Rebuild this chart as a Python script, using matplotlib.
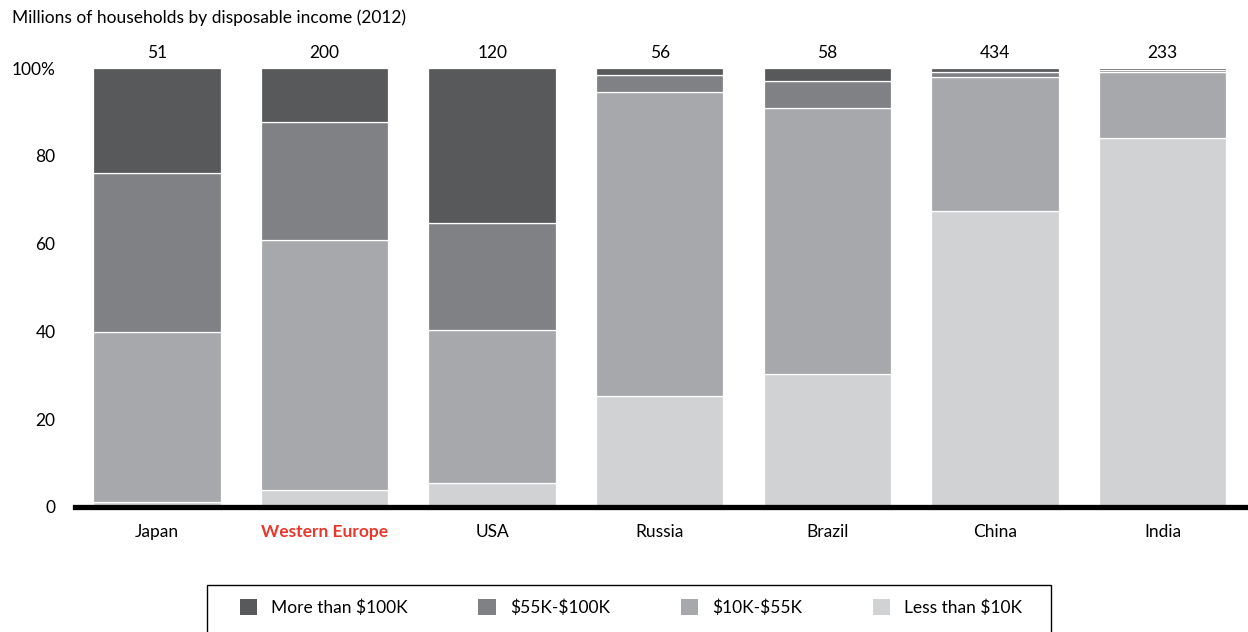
import matplotlib.pyplot as plt
from matplotlib.patches import Patch, Rectangle
import numpy as np

plt.rcParams['font.family'] = ['Lato', 'DejaVu Sans']

regions = ['Japan', 'Western Europe', 'USA', 'Russia', 'Brazil', 'China', 'India']
totals = ['51', '200', '120', '56', '58', '434', '233']

# share of households (%) by income band
less_10k = [1.1, 3.9, 5.5, 25.3, 30.3, 67.4, 84.0]
k10_55 = [38.8, 56.9, 34.8, 69.3, 60.7, 30.6, 15.0]
k55_100 = [36.2, 27.0, 24.4, 3.7, 6.1, 1.2, 0.6]
more_100k = [23.9, 12.2, 35.3, 1.7, 2.9, 0.8, 0.4]

series = [
    ('Less than \\$10K', less_10k, '#d1d2d4'),
    ('\\$10K-\\$55K', k10_55, '#a7a8ab'),
    ('\\$55K-\\$100K', k55_100, '#808184'),
    ('More than \\$100K', more_100k, '#58595b'),
]

fig = plt.figure(figsize=(12.48, 6.32), dpi=100)
ax = fig.add_axes([0.060, 0.1978, 0.940, 0.6946])

x = np.arange(len(regions))
bottom = np.zeros(len(regions))
for name, vals, color in series:
    ax.bar(x, vals, width=0.76, bottom=bottom, color=color,
           edgecolor='white', linewidth=0.9)
    bottom += np.array(vals)

for xi, t in zip(x, totals):
    ax.annotate(t, (xi, 100), xytext=(0, 5), textcoords='offset points',
                ha='center', va='bottom', fontsize=12.5)

ax.set_xlim(-0.49, 6.51)
ax.set_ylim(0, 100)
ax.set_yticks([0, 20, 40, 60, 80, 100])
ax.set_yticklabels(['0', '20', '40', '60', '80', '100%'], fontsize=12.5)
ax.set_xticks(x)
ax.set_xticklabels(regions, fontsize=12.5)
ax.tick_params(axis='both', length=0)
ax.tick_params(axis='y', pad=14)
ax.tick_params(axis='x', pad=12)
lbl = ax.get_xticklabels()[1]
lbl.set_color('#e8382e')
lbl.set_fontweight('bold')

for s in ['top', 'right', 'left']:
    ax.spines[s].set_visible(False)
ax.spines['bottom'].set_linewidth(3.8)
ax.spines['bottom'].set_zorder(5)

fig.text(0.0096, 0.972, 'Millions of households by disposable income (2012)',
         fontsize=12.5, va='center', ha='left')

# legend box drawn separately so the entries can sit inside it freely
fig.patches.append(Rectangle((0.166, -0.05), 0.676, 0.1245,
                             transform=fig.transFigure, fill=False,
                             edgecolor='black', linewidth=1.0))

handles = [Patch(facecolor=c, edgecolor='none') for _, _, c in reversed(series)]
labels = [n for n, _, _ in reversed(series)]
fig.legend(handles, labels, loc='upper left', ncol=4, mode='expand',
           bbox_to_anchor=(0.192, 0.0, 0.627, 0.052), fontsize=12.5,
           handlelength=1.0, handleheight=1.0, handletextpad=0.8,
           borderpad=0, borderaxespad=0, frameon=False)

fig.savefig('out.png', dpi=100)
